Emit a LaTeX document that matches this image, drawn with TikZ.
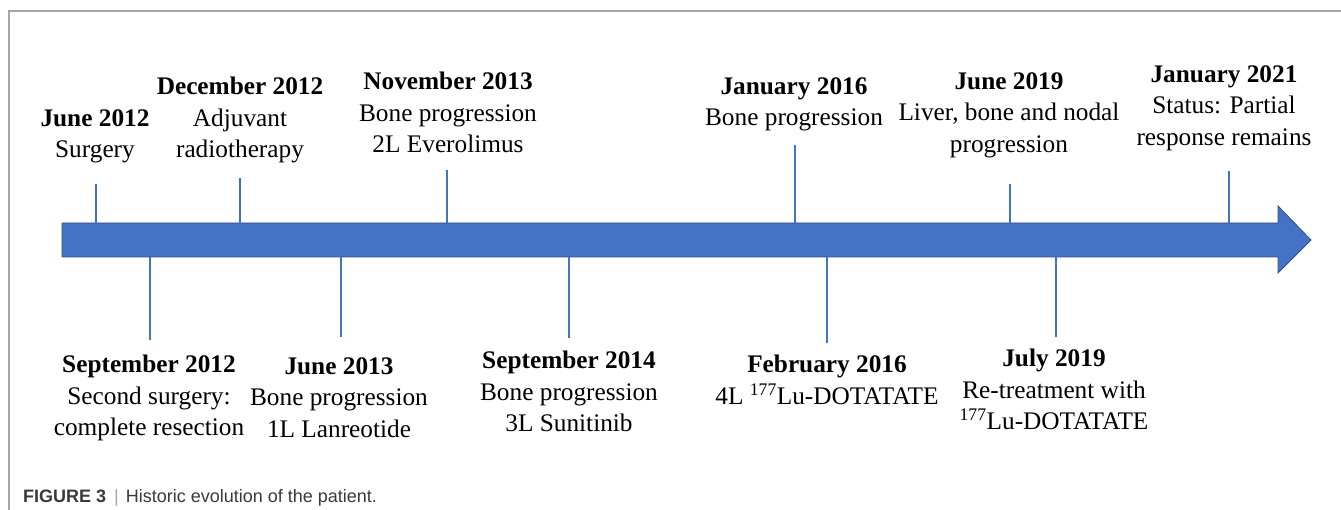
\documentclass[tikz,border=0pt]{standalone}
\usepackage{fontspec}
\setmainfont{Liberation Serif}
\newfontfamily\capfont{Liberation Sans}
\definecolor{barblue}{HTML}{4472C4}
\definecolor{baredge}{HTML}{2F528F}
\definecolor{framegray}{HTML}{A6A6A6}
\definecolor{captext}{HTML}{3A3A3A}
\newcommand{\lblsize}{\fontsize{25.3}{31.5}\selectfont}

\begin{document}
\begin{tikzpicture}[x=1pt,y=-1pt,
		event/.style={align=center,inner sep=0pt,anchor=north,font=\lblsize,execute at begin node=\strut},
		tick/.style={barblue,line width=2.7pt}]
		\useasboundingbox (0,0) rectangle (1341,510);
		\draw[framegray,line width=1.2pt] (9,510) -- (9,11) -- (1341,11);

		% timeline arrow
		\filldraw[fill=barblue,draw=baredge,line width=0.8pt] (62,223) -- (1278,223) -- (1278,206) -- (1311,240) -- (1278,273) -- (1278,257) -- (62,257) -- cycle;

		% events above the arrow
		\node (ju12) at (95,109) [event] {\textbf{June 2012}\\Surgery};
		\node (de12) at (240,77) [event] {\textbf{December 2012}\\Adjuvant\\radiotherapy};
		\node (no13) at (448,72) [event] {\textbf{November 2013}\\Bone progression\\2L Everolimus};
		\node (ja16) at (794,77) [event] {\textbf{January 2016}\\Bone progression};
		\node (ju19) at (1009,72) [event] {\textbf{June 2019}\\Liver, bone and nodal\\progression};
		\node (ja21) at (1224,65) [event] {\textbf{January 2021}\\Status: Partial\\response remains};

		% events below the arrow
		\node (se12) at (149,355) [event] {\textbf{September 2012}\\Second surgery:\\complete resection};
		\node (ju13) at (339,357) [event] {\textbf{June 2013}\\Bone progression\\1L Lanreotide};
		\node (se14) at (569,351) [event] {\textbf{September 2014}\\Bone progression\\3L Sunitinib};
		\node (fe16) at (827,355) [event] {\textbf{February 2016}\\4L \textsuperscript{177}Lu-DOTATATE};
		\node (jl19) at (1054,349) [event] {\textbf{July 2019}\\Re-treatment with\\\textsuperscript{177}Lu-DOTATATE};

		\coordinate (ju12bar) at (96,223); \coordinate (ju12end) at (96,184);
		\coordinate (de12bar) at (240,223); \coordinate (de12end) at (240,178);
		\coordinate (no13bar) at (447,223); \coordinate (no13end) at (447,170);
		\coordinate (ja16bar) at (795,223); \coordinate (ja16end) at (795,145);
		\coordinate (ju19bar) at (1010,223); \coordinate (ju19end) at (1010,184);
		\coordinate (ja21bar) at (1229,223); \coordinate (ja21end) at (1229,171);
		\coordinate (se12bar) at (150,257); \coordinate (se12end) at (150,340);
		\coordinate (ju13bar) at (341,257); \coordinate (ju13end) at (341,337);
		\coordinate (se14bar) at (569,257); \coordinate (se14end) at (569,338);
		\coordinate (fe16bar) at (827,257); \coordinate (fe16end) at (827,343);
		\coordinate (jl19bar) at (1056,257); \coordinate (jl19end) at (1056,337);

		\draw[tick] (ju12bar) -- (ju12end);
		\draw[tick] (de12bar) -- (de12end);
		\draw[tick] (no13bar) -- (no13end);
		\draw[tick] (ja16bar) -- (ja16end);
		\draw[tick] (ju19bar) -- (ju19end);
		\draw[tick] (ja21bar) -- (ja21end);
		\draw[tick] (se12bar) -- (se12end);
		\draw[tick] (ju13bar) -- (ju13end);
		\draw[tick] (se14bar) -- (se14end);
		\draw[tick] (fe16bar) -- (fe16end);
		\draw[tick] (jl19bar) -- (jl19end);

		\node (cap) at (23,502) [anchor=base west,inner sep=0pt,font=\capfont\fontsize{18}{22}\selectfont,text=captext] {\textbf{FIGURE 3}\hspace{8pt}{\color{framegray}|}\hspace{7pt}Historic evolution of the patient.};
	\end{tikzpicture}
\end{document}
